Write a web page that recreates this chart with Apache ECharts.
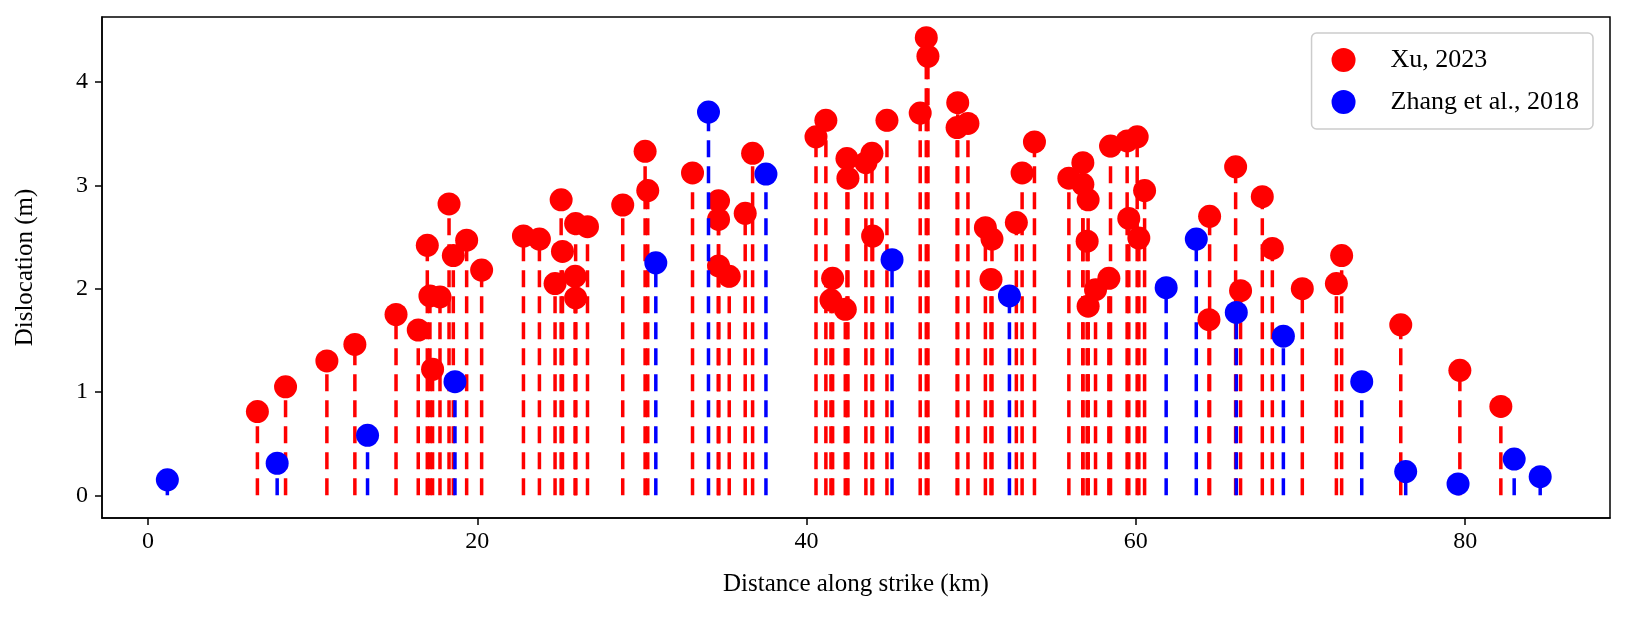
<!DOCTYPE html>
<html><head><meta charset="utf-8">
<script src="https://cdn.jsdelivr.net/npm/echarts@6/dist/echarts.min.js"></script>
<style>html,body{margin:0;padding:0;background:#fff}#c{width:1626px;height:633px}</style>
</head><body><div id="c"></div>
<script>
const xuX = [6.64,8.35,10.86,12.56,15.06,16.41,16.96,17.12,17.28,17.73,18.28,18.54,19.35,20.26,22.8,23.77,25.09,24.72,25.17,25.94,25.97,25.97,26.69,
28.83,30.19,30.35,33.07,34.65,34.65,34.65,35.3,36.27,36.72,40.57,41.17,41.58,41.48,42.35,42.45,42.51,43.6,43.97,44.01,44.88,46.9,47.27,47.37,49.18,49.14,49.8,50.86,51.26,51.2,52.74,53.09,53.84,55.93,
56.78,56.78,57.1,57.04,57.1,57.55,58.36,58.46,59.47,60.08,59.57,60.18,60.53,64.48,64.44,66.06,66.36,67.68,68.29,70.11,72.18,72.5,76.09,79.68,82.17];
const xuY = [0.81,1.05,1.30,1.46,1.75,1.60,2.42,1.93,1.22,1.92,2.82,2.32,2.47,2.18,2.51,2.48,2.86,2.05,2.36,2.12,2.63,1.91,2.60,
2.81,3.33,2.95,3.12,2.85,2.67,2.22,2.12,2.73,3.31,3.47,3.63,2.10,1.89,1.80,3.26,3.07,3.22,3.31,2.51,3.63,3.70,4.43,4.25,3.80,3.56,3.60,2.59,2.48,2.09,2.64,3.12,3.42,3.07,
3.22,3.01,2.86,2.46,1.83,1.99,2.10,3.38,3.43,3.47,2.68,2.49,2.95,2.70,1.70,3.18,1.98,2.89,2.39,2.00,2.05,2.32,1.65,1.21,0.86];
const zhX = [1.17,7.84,13.33,18.64,30.84,34.04,37.53,45.19,52.32,61.84,63.67,66.1,68.96,73.72,76.39,79.57,82.98,84.56];
const zhY = [0.15,0.31,0.58,1.10,2.25,3.71,3.11,2.28,1.93,2.01,2.48,1.77,1.54,1.10,0.23,0.11,0.35,0.18];
const xTicks = [0,20,40,60,80];
const yTicks = [0,1,2,3,4];

const pairs = (xs, ys) => xs.map((x, i) => [x, ys[i]]);
const stem = color => function (params, api) {
  const p0 = api.coord([api.value(0), 0]);
  const p1 = api.coord([api.value(0), api.value(1)]);
  return {type: 'line', shape: {x1: p0[0], y1: p0[1], x2: p1[0], y2: p1[1]},
    style: {stroke: color, lineWidth: 3.5, lineDash: [17, 9]}};
};
const font = 'Liberation Serif';
const axLine = {show: true, onZero: false, lineStyle: {color: '#000', width: 1.5}};
const chart = echarts.init(document.getElementById('c'));
chart.setOption({
  animation: false,
  textStyle: {fontFamily: font},
  grid: {left: 102, right: 16, top: 17, bottom: 115, show: true, borderColor: '#000', borderWidth: 1.5},
  legend: {
    data: ['Xu, 2023', 'Zhang et al., 2018'], orient: 'vertical', right: 33, top: 33,
    itemWidth: 24, itemHeight: 24, itemGap: 16, padding: [14, 14, 14, 20],
    borderColor: '#ccc', borderWidth: 1.5, borderRadius: 5, backgroundColor: '#fff',
    textStyle: {fontFamily: font, fontSize: 26, color: '#000', padding: [0, 0, 0, 30]}
  },
  xAxis: {
    type: 'value', min: -2.8, max: 88.8,
    name: 'Distance along strike (km)', nameLocation: 'middle', nameGap: 54,
    nameTextStyle: {fontFamily: font, fontSize: 25, color: '#000'},
    axisLine: axLine, splitLine: {show: false},
    axisTick: {customValues: xTicks, length: 7, inside: false, lineStyle: {color: '#000', width: 1.5}},
    axisLabel: {customValues: xTicks, fontFamily: font, fontSize: 24, color: '#000', margin: 12}
  },
  yAxis: {
    type: 'value', min: -0.22, max: 4.63,
    name: 'Dislocation (m)', nameLocation: 'middle', nameGap: 64, nameRotate: 90,
    nameTextStyle: {fontFamily: font, fontSize: 25, color: '#000'},
    axisLine: axLine, splitLine: {show: false},
    axisTick: {customValues: yTicks, length: 7, inside: false, lineStyle: {color: '#000', width: 1.5}},
    axisLabel: {customValues: yTicks, fontFamily: font, fontSize: 24, color: '#000', margin: 14}
  },
  series: [
    {type: 'custom', name: 'xuStem', data: pairs(xuX, xuY), renderItem: stem('#ff0000'), z: 1, silent: true},
    {type: 'scatter', name: 'Xu, 2023', data: pairs(xuX, xuY), symbol: 'circle', symbolSize: 23,
      itemStyle: {color: '#ff0000', opacity: 1}, z: 2},
    {type: 'custom', name: 'zhStem', data: pairs(zhX, zhY), renderItem: stem('#0000ff'), z: 3, silent: true},
    {type: 'scatter', name: 'Zhang et al., 2018', data: pairs(zhX, zhY), symbol: 'circle', symbolSize: 23,
      itemStyle: {color: '#0000ff', opacity: 1}, z: 4}
  ]
});
</script></body></html>
